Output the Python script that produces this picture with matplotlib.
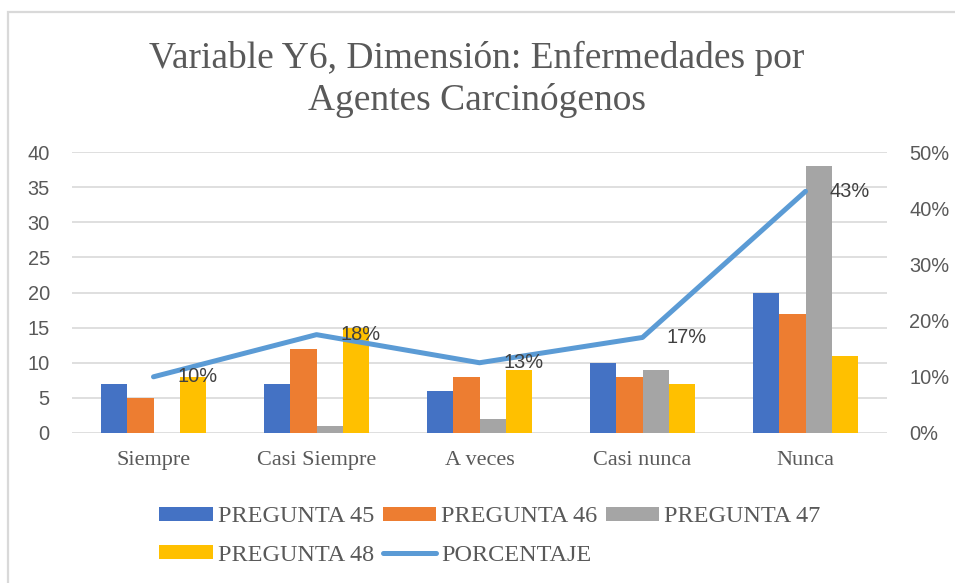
import matplotlib.pyplot as plt
import matplotlib.patches as mpatches
import numpy as np

# datos del gráfico
categorias = ["Siempre", "Casi Siempre", "A veces", "Casi nunca", "Nunca"]
pregunta_45 = [7, 7, 6, 10, 20]
pregunta_46 = [5, 12, 8, 8, 17]
pregunta_47 = [0, 1, 2, 9, 38]
pregunta_48 = [8, 15, 9, 7, 11]
porcentaje = [0.10, 0.175, 0.125, 0.17, 0.43]
etiquetas_pct = ["10%", "18%", "13%", "17%", "43%"]

series = [
    ("PREGUNTA 45", pregunta_45, "#4472C4"),
    ("PREGUNTA 46", pregunta_46, "#ED7D31"),
    ("PREGUNTA 47", pregunta_47, "#A5A5A5"),
    ("PREGUNTA 48", pregunta_48, "#FFC000"),
]

SANS = "Liberation Sans"
SERIF = "Liberation Serif"
GRIS = "#595959"

W, H = 955, 583
fig = plt.figure(figsize=(W / 100, H / 100), dpi=100)

# borde del área del gráfico
fig.patches.append(mpatches.Rectangle(
    (7.5 / W, -0.05), 1.1, 1 - 12.5 / H + 0.05, transform=fig.transFigure,
    fill=False, edgecolor="#D9D9D9", linewidth=1.6))

ax = fig.add_axes([72 / W, 1 - 433 / H, (887 - 72) / W, (433 - 152) / H])
x = np.arange(len(categorias))
ancho = 0.161
for i, (nombre, vals, color) in enumerate(series):
    ax.bar(x + (i - 1.5) * ancho, vals, width=ancho, color=color, label=nombre, zorder=2)

ax.set_xlim(-0.5, len(categorias) - 0.5)
ax.set_ylim(0, 40)
ax.set_yticks(range(0, 41, 5))
ax.set_xticks(x)
ax.set_xticklabels(categorias, fontfamily=SERIF, fontsize=16, color=GRIS)
ax.grid(axis="y", color="#D9D9D9", linewidth=1.2, zorder=0)
ax.set_axisbelow(True)
for s in ax.spines.values():
    s.set_visible(False)
ax.tick_params(axis="y", length=0, pad=16, labelsize=14.4, labelcolor=GRIS)
ax.tick_params(axis="x", length=0, pad=13)
for lbl in ax.get_yticklabels():
    lbl.set_fontfamily(SANS)

ax2 = ax.twinx()
ax2.plot(x, porcentaje, color="#5B9BD5", linewidth=3.6, solid_capstyle="round",
         label="PORCENTAJE", zorder=3)
ax2.set_ylim(0, 0.5)
ax2.set_yticks(np.arange(0, 0.51, 0.1))
ax2.set_yticklabels([f"{int(round(v * 100))}%" for v in np.arange(0, 0.51, 0.1)],
                    fontfamily=SANS)
ax2.tick_params(axis="y", length=0, pad=16, labelsize=14.4, labelcolor=GRIS)
for s in ax2.spines.values():
    s.set_visible(False)

for xi, yi, txt in zip(x, porcentaje, etiquetas_pct):
    ax2.annotate(txt, (xi, yi), xytext=(17, 0), textcoords="offset points",
                 ha="left", va="center", fontfamily=SANS, fontsize=14.4,
                 color="#404040", zorder=4)

fig.text(477 / W, 1 - 58 / H, "Variable Y6, Dimensión: Enfermedades por",
         ha="center", va="center", fontfamily=SERIF, fontsize=27, color=GRIS)
fig.text(477 / W, 1 - 101 / H, "Agentes Carcinógenos",
         ha="center", va="center", fontfamily=SERIF, fontsize=27, color=GRIS)

# leyenda en filas: el orden va por columnas en matplotlib
h1, l1 = ax.get_legend_handles_labels()
h2, l2 = ax2.get_legend_handles_labels()
hs, ls = h1 + h2, l1 + l2
orden = [0, 3, 1, 4, 2]
fig.legend([hs[i] for i in orden], [ls[i] for i in orden], loc="center",
           bbox_to_anchor=(490 / W, 1 - 536 / H),
           ncol=3, frameon=False, prop={"family": SERIF, "size": 17.5},
           labelcolor=GRIS, handlelength=2.2, handleheight=0.5,
           handletextpad=0.2, columnspacing=0.35, labelspacing=0.7)

fig.savefig("out.png", dpi=100)
